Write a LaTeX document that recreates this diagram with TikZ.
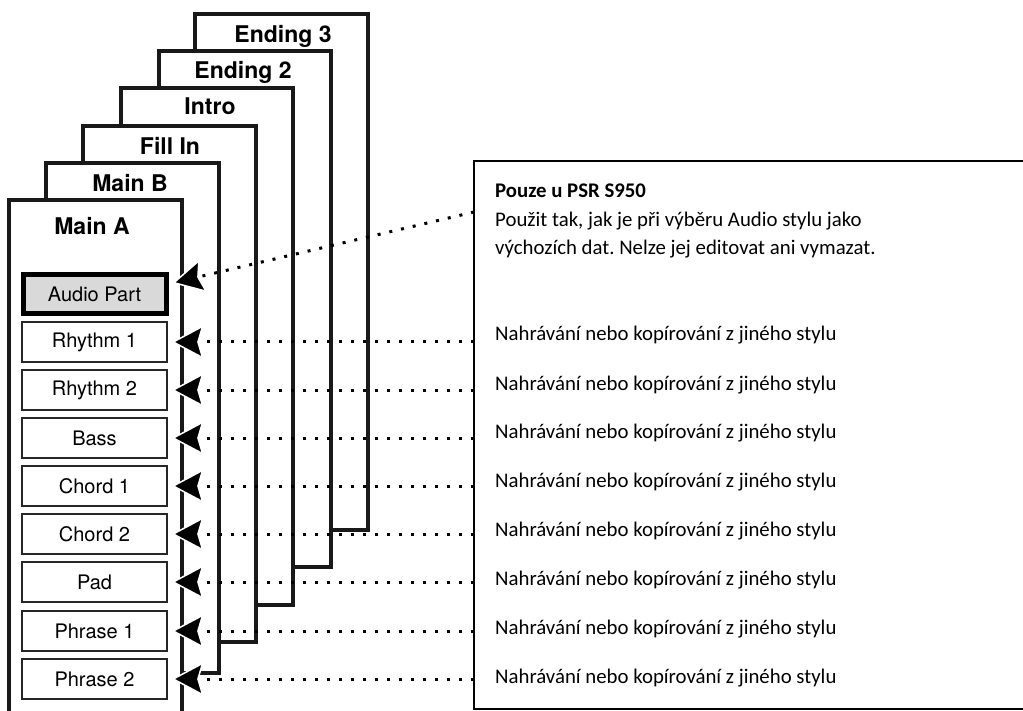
\documentclass[tikz,border=0pt]{standalone}
\usepackage{fontspec}
\setmainfont{Carlito}
\newfontfamily\heros{TeX Gyre Heros}
\usetikzlibrary{arrows.meta}
\frenchspacing

\tikzset{
  frame/.style={draw=black!90, line width=3.4pt, fill=white},
  framelabel/.style={anchor=base, inner sep=0pt, font=\heros\bfseries\fontsize{23}{23}\selectfont},
  part/.style={draw=black!85, line width=1.4pt, fill=white, minimum width=145pt, minimum height=40pt, inner sep=0pt, font=\heros\fontsize{20}{20}\selectfont},
  audiopart/.style={part, draw=black, line width=5pt, fill=black!15, minimum width=143pt, minimum height=39pt},
  note/.style={anchor=base west, inner sep=0pt, align=left, font=\fontsize{20.8}{28.5}\selectfont},
  link/.style={line width=3pt, dash pattern=on 3pt off 9pt, shorten >=4pt,
    -{Stealth[length=32pt, width=34pt, inset=5pt, color=white, fill=black, line width=1.5pt]}},
}

\begin{document}
\begin{tikzpicture}[x=1pt, y=-1pt]
\useasboundingbox (0,0) rectangle (1023,711);
\draw[frame] (195,530) rectangle (368,14);
\node[framelabel] (ending3) at (283,43) {Ending 3};
\draw[frame] (159,567) rectangle (331,51);
\node[framelabel] (ending2) at (243,79) {Ending 2};
\draw[frame] (121,605) rectangle (293,88);
\node[framelabel] (intro) at (210,115) {Intro};
\draw[frame] (83,642) rectangle (256,126);
\node[framelabel] (fillin) at (170,155) {Fill In};
\draw[frame] (46,673) rectangle (219,163);
\node[framelabel] (mainB) at (130,192) {Main B};
\draw[frame] (9,730) rectangle (182,200);
\node[framelabel] (mainA) at (92,235) {Main A};

\node[audiopart] (audio) at (94.5,294) {Audio Part};
\node[part] (rhythmA) at (94.5,342) {Rhythm 1};
\node[part] (rhythmB) at (94.5,390) {Rhythm 2};
\node[part] (bass) at (94.5,438) {Bass};
\node[part] (chordA) at (94.5,486) {Chord 1};
\node[part] (chordB) at (94.5,534) {Chord 2};
\node[part] (pad) at (94.5,582) {Pad};
\node[part] (phraseA) at (94.5,631) {Phrase 1};
\node[part] (phraseB) at (94.5,679) {Phrase 2};

\draw[line width=1.8pt] (1030,161) -- (474,161) -- (474,709) -- (1030,709);
\node[note] (onlyS950) at (495,255) {\textbf{Pouze u PSR S950}\\Použit tak, jak je při výběru Audio stylu jako\\výchozích dat. Nelze jej editovat ani vymazat.};
\node[note] (recA) at (495,341) {Nahrávání nebo kopírování z jiného stylu};
\node[note] (recB) at (495,390) {Nahrávání nebo kopírování z jiného stylu};
\node[note] (recC) at (495,438) {Nahrávání nebo kopírování z jiného stylu};
\node[note] (recD) at (495,487) {Nahrávání nebo kopírování z jiného stylu};
\node[note] (recE) at (495,536) {Nahrávání nebo kopírování z jiného stylu};
\node[note] (recF) at (495,585) {Nahrávání nebo kopírování z jiného stylu};
\node[note] (recG) at (495,634) {Nahrávání nebo kopírování z jiného stylu};
\node[note] (recH) at (495,683) {Nahrávání nebo kopírování z jiného stylu};

\coordinate (inS950) at (474,212);
\coordinate (inA) at (474,342);
\coordinate (inB) at (474,390);
\coordinate (inC) at (474,438);
\coordinate (inD) at (474,486);
\coordinate (inE) at (474,534);
\coordinate (inF) at (474,582);
\coordinate (inG) at (474,631);
\coordinate (inH) at (474,679);

\draw[link] (inS950) -- ([yshift=10pt]audio.east);
\draw[link] (inA) -- (rhythmA.east);
\draw[link] (inB) -- (rhythmB.east);
\draw[link] (inC) -- (bass.east);
\draw[link] (inD) -- (chordA.east);
\draw[link] (inE) -- (chordB.east);
\draw[link] (inF) -- (pad.east);
\draw[link] (inG) -- (phraseA.east);
\draw[link] (inH) -- (phraseB.east);
\end{tikzpicture}
\end{document}
